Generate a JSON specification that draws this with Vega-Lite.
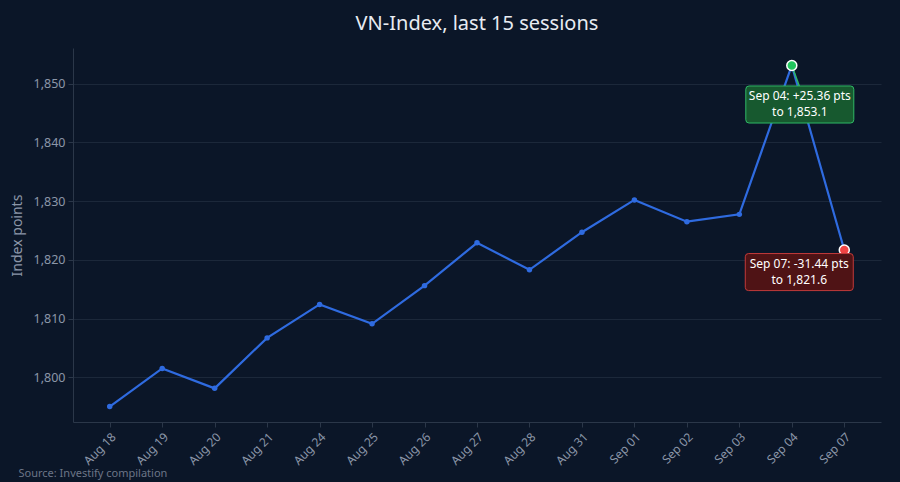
{
  "$schema": "https://vega.github.io/schema/vega-lite/v6.json",
  "width": 808,
  "height": 374,
  "autosize": {"type": "none"},
  "padding": {"left": 73, "top": 48, "right": 19, "bottom": 60},
  "background": "#0b1628",
  "config": {
    "font": "Noto Sans",
    "view": {"stroke": null},
    "axis": {
      "labelColor": "#8c96a8",
      "titleColor": "#8c96a8",
      "domainColor": "#2b3749",
      "tickColor": "#2b3749",
      "gridColor": "#1c283a",
      "labelFont": "Noto Sans",
      "titleFont": "Noto Sans"
    }
  },
  "title": {
    "text": "VN-Index, last 15 sessions",
    "color": "#e8ecf2",
    "fontSize": 20,
    "fontWeight": "normal",
    "anchor": "middle",
    "offset": 14
  },
  "datasets": {
    "sessions": [
      {"date": "Aug 18", "value": 1795.0},
      {"date": "Aug 19", "value": 1801.5},
      {"date": "Aug 20", "value": 1798.1},
      {"date": "Aug 21", "value": 1806.7},
      {"date": "Aug 24", "value": 1812.4},
      {"date": "Aug 25", "value": 1809.1},
      {"date": "Aug 26", "value": 1815.6},
      {"date": "Aug 27", "value": 1822.9},
      {"date": "Aug 28", "value": 1818.3},
      {"date": "Aug 31", "value": 1824.7},
      {"date": "Sep 01", "value": 1830.2},
      {"date": "Sep 02", "value": 1826.5},
      {"date": "Sep 03", "value": 1827.74},
      {"date": "Sep 04", "value": 1853.1},
      {"date": "Sep 07", "value": 1821.66}
    ],
    "notes": [
      {"date": "Sep 04", "value": 1853.1, "kind": "up", "label": "Sep 04: +25.36 pts\nto 1,853.1"},
      {"date": "Sep 07", "value": 1821.66, "kind": "down", "label": "Sep 07: -31.44 pts\nto 1,821.6"}
    ]
  },
  "encoding": {
    "x": {
      "field": "date",
      "type": "ordinal",
      "sort": null,
      "scale": {"type": "point", "padding": 0.7},
      "axis": {
        "labelAngle": -45,
        "labelFontSize": 12,
        "labelPadding": 4,
        "tickSize": 5,
        "grid": false,
        "title": "Source: Investify compilation",
        "titleFontSize": 11,
        "titleFontWeight": "normal",
        "titleColor": "#6b7587",
        "titleAnchor": "start",
        "titleAlign": "left",
        "titleBaseline": "middle",
        "titleX": -55,
        "titleY": 51
      }
    },
    "y": {
      "field": "value",
      "type": "quantitative",
      "scale": {"domain": [1792.37, 1856.08], "nice": false, "zero": false},
      "axis": {
        "values": [1800, 1810, 1820, 1830, 1840, 1850],
        "format": ",d",
        "labelFontSize": 12.5,
        "tickSize": 5,
        "labelPadding": 3,
        "title": "Index points",
        "titleFontSize": 14,
        "titleFontWeight": "normal",
        "titlePadding": 9
      }
    }
  },
  "layer": [
    {
      "data": {"name": "sessions"},
      "mark": {"type": "line", "color": "#2f6be0", "strokeWidth": 2.2, "point": {"filled": true, "size": 30, "color": "#2f6be0"}}
    },
    {
      "data": {"name": "notes"},
      "transform": [{"filter": "datum.kind == 'up'"}],
      "mark": {"type": "rule", "strokeWidth": 1.5, "color": "#2fb866", "x2Offset": 8, "y2Offset": 22},
      "encoding": {
        "x2": {"field": "date"},
        "y2": {"field": "value"}
      }
    },
    {
      "data": {"name": "notes"},
      "mark": {"type": "point", "filled": true, "opacity": 1, "size": 100, "stroke": "#ffffff", "strokeWidth": 1.5},
      "encoding": {
        "fill": {"field": "kind", "type": "nominal", "scale": {"domain": ["up", "down"], "range": ["#22c55e", "#ef4444"]}, "legend": null}
      }
    },
    {
      "data": {"name": "notes"},
      "transform": [{"filter": "datum.kind == 'up'"}],
      "mark": {"type": "point", "shape": "M-0.94,-0.343 L0.94,-0.343 Q1,-0.343 1,-0.283 L1,0.283 Q1,0.343 0.94,0.343 L-0.94,0.343 Q-1,0.343 -1,0.283 L-1,-0.283 Q-1,-0.343 -0.94,-0.343 Z", "size": 11664, "filled": true, "fill": "#17592f", "stroke": "#2fb866", "strokeWidth": 1, "opacity": 1, "xOffset": 8, "yOffset": 39}
    },
    {
      "data": {"name": "notes"},
      "transform": [{"filter": "datum.kind == 'down'"}],
      "mark": {"type": "point", "shape": "M-0.94,-0.343 L0.94,-0.343 Q1,-0.343 1,-0.283 L1,0.283 Q1,0.343 0.94,0.343 L-0.94,0.343 Q-1,0.343 -1,0.283 L-1,-0.283 Q-1,-0.343 -0.94,-0.343 Z", "size": 11664, "filled": true, "fill": "#4f1315", "stroke": "#c23a3a", "strokeWidth": 1, "opacity": 1, "xOffset": -45, "yOffset": 22}
    },
    {
      "data": {"name": "notes"},
      "transform": [{"filter": "datum.kind == 'up'"}],
      "mark": {"type": "text", "lineBreak": "\n", "color": "#ffffff", "fontSize": 12, "lineHeight": 16, "align": "center", "baseline": "middle", "xOffset": 8, "yOffset": 31},
      "encoding": {"text": {"field": "label"}}
    },
    {
      "data": {"name": "notes"},
      "transform": [{"filter": "datum.kind == 'down'"}],
      "mark": {"type": "text", "lineBreak": "\n", "color": "#ffffff", "fontSize": 12, "lineHeight": 16, "align": "center", "baseline": "middle", "xOffset": -45, "yOffset": 14},
      "encoding": {"text": {"field": "label"}}
    }
  ]
}
